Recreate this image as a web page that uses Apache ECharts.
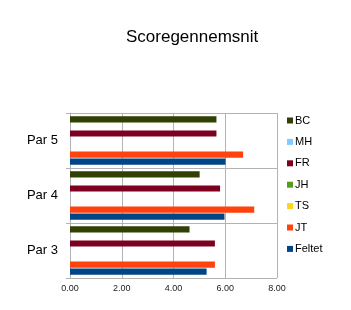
<!DOCTYPE html>
<html><head><meta charset="utf-8">
<script src="https://cdn.jsdelivr.net/npm/echarts@6/dist/echarts.min.js"></script>
<style>html,body{margin:0;padding:0;background:#fff}#c{width:351px;height:310px}</style>
</head><body><div id="c"></div>
<script>
const categories = ['Par 3', 'Par 4', 'Par 5'];
const seriesNames = ['BC', 'MH', 'FR', 'JH', 'TS', 'JT', 'Feltet'];
const Feltet = [5.28, 5.97, 6.01];
const JT = [5.60, 7.12, 6.69];
const TS = [null, null, null];
const JH = [null, null, null];
const FR = [5.60, 5.80, 5.66];
const MH = [null, null, null];
const BC = [4.62, 5.01, 5.66];
const xTicks = [0, 2, 4, 6, 8];
const colors = {Feltet:'#004586', JT:'#ff420e', TS:'#ffd320', JH:'#579d1c', FR:'#7e0021', MH:'#83caff', BC:'#314004'};
const dataMap = {Feltet, JT, TS, JH, FR, MH, BC};

const chart = echarts.init(document.getElementById('c'), null, {renderer:'canvas'});
chart.setOption({
  animation: false,
  textStyle: {fontFamily: 'Liberation Sans, Arial, sans-serif'},
  title: {text: 'Scoregennemsnit', left: 121, top: 24,
    textStyle: {fontSize: 17, fontWeight: 'normal', color: '#000', fontFamily: 'Liberation Sans, Arial, sans-serif'}},
  legend: {
    orient: 'vertical', left: 282, top: 110, itemGap: 10.4,
    itemWidth: 6, itemHeight: 6, icon: 'rect',
    data: seriesNames,
    textStyle: {fontSize: 11, color: '#000', padding: [0,0,0,-3]}
  },
  grid: {left: 70, right: 74, top: 113, bottom: 32, containLabel: false},
  xAxis: {
    type: 'value', min: 0, max: 8, interval: 2,
    axisLine: {show: false}, axisTick: {show: false},
    axisLabel: {fontSize: 9, color: '#222', margin: 6, formatter: v => v.toFixed(2)},
    splitLine: {show: true, lineStyle: {color: '#b3b3b3', width: 1}}
  },
  yAxis: {
    type: 'category', data: categories,
    axisLine: {show: true, lineStyle: {color: '#b3b3b3'}},
    axisTick: {show: true, length: 4, lineStyle: {color: '#b3b3b3'}},
    axisLabel: {fontSize: 13, color: '#000', margin: 12},
    splitLine: {show: true, lineStyle: {color: '#b3b3b3', width: 1}}
  },
  series: seriesNames.map(n => ({
    name: n, type: 'bar', data: dataMap[n],
    barGap: '15%', barCategoryGap: '12%',
    itemStyle: {color: colors[n]}
  }))
});
</script></body></html>
